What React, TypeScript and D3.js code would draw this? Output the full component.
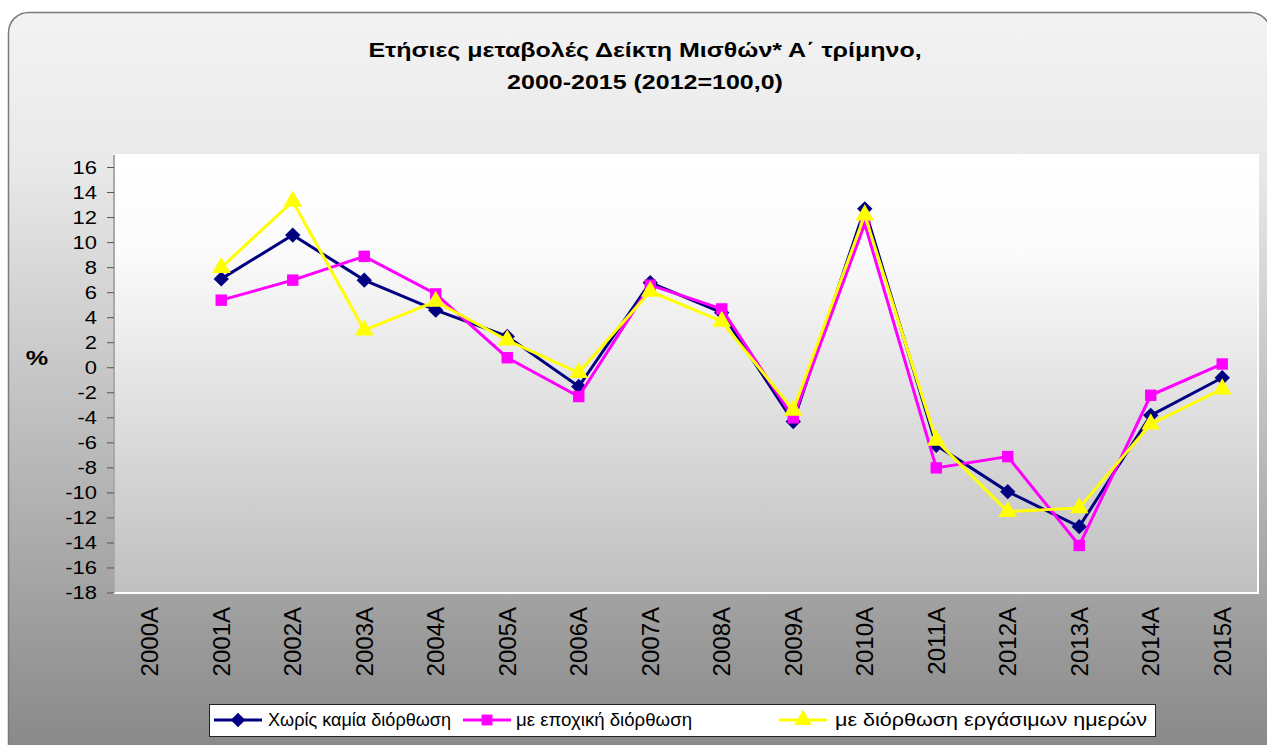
import React from "react";
import * as d3 from "d3";

const categories = [
  "2000A", "2001A", "2002A", "2003A", "2004A", "2005A", "2006A", "2007A",
  "2008A", "2009A", "2010A", "2011A", "2012A", "2013A", "2014A", "2015A",
];

const noAdjustment: (number | null)[] = [
  null, 7.1, 10.6, 7.0, 4.6, 2.5, -1.5, 6.8, 4.4, -4.3, 12.7, -6.2, -9.9, -12.7, -3.8, -0.8,
];
const seasonalAdjusted: (number | null)[] = [
  null, 5.4, 7.0, 8.9, 5.9, 0.8, -2.3, 6.6, 4.7, -4.0, 11.5, -8.0, -7.1, -14.2, -2.2, 0.3,
];
const workdayAdjusted: (number | null)[] = [
  null, 8.0, 13.3, 3.0, 5.3, 2.2, -0.4, 6.1, 3.7, -3.4, 12.2, -5.8, -11.5, -11.2, -4.5, -1.7,
];

const yTicks = d3.range(-18, 17, 2);

const seriesNames = [
  "Χωρίς καμία διόρθωση",
  "με εποχική διόρθωση",
  "με διόρθωση εργάσιμων ημερών",
];
const seriesColors = ["#000080", "#FF00FF", "#FFFF00"];
const seriesShapes = [d3.symbolDiamond2, d3.symbolSquare, d3.symbolTriangle];
const seriesSizes = [150, 130, 150];

const W = 1267;
const H = 745;
const FONT = "'Liberation Sans', Arial, sans-serif";

const plot = { left: 114, right: 1258, top: 155, bottom: 593 };

export default function App() {
  const x = d3
    .scaleBand<string>()
    .domain(categories)
    .range([plot.left, plot.right]);
  const y = d3.scaleLinear().domain([-18, 17]).range([plot.bottom, plot.top]);

  const all = [noAdjustment, seasonalAdjusted, workdayAdjusted];
  const cx = (i: number) => (x(categories[i]) as number) + x.bandwidth() / 2;

  const line = d3
    .line<number | null>()
    .defined((d) => d !== null)
    .x((_, i) => cx(i))
    .y((d) => y(d as number));

  const symbolPath = (i: number, size?: number) =>
    d3.symbol().type(seriesShapes[i]).size(size ?? seriesSizes[i])() as string;

  // legend layout: line start, text start, text width
  const legendItems = [
    { lineX: 214, textX: 268, textW: 183 },
    { lineX: 463, textX: 516, textW: 176 },
    { lineX: 779, textX: 835, textW: 312 },
  ];

  return (
    <div style={{ position: "absolute", left: 0, top: 0 }}>
      <svg width={W} height={H} style={{ display: "block", fontFamily: FONT }}>
        <defs>
          <linearGradient id="bg" x1="0" y1="0" x2="0" y2="1">
            <stop offset="0" stopColor="#f3f3f3" />
            <stop offset="0.2" stopColor="#e9e9e9" />
            <stop offset="1" stopColor="#858585" />
          </linearGradient>
          <linearGradient id="plotbg" x1="0" y1="0" x2="0" y2="1">
            <stop offset="0" stopColor="#ffffff" />
            <stop offset="0.22" stopColor="#fbfbfb" />
            <stop offset="1" stopColor="#bfbfbf" />
          </linearGradient>
        </defs>
        <rect width={W} height={H} fill="#ffffff" />
        <rect
          x={8.5}
          y={12.5}
          width={1262}
          height={760}
          rx={20}
          fill="url(#bg)"
          stroke="#7a7a7a"
          strokeWidth={1.5}
        />

        <text
          transform="translate(645,57) scale(1.19,1)"
          textAnchor="middle"
          fontSize={21}
          fontWeight="bold"
          fill="#000"
        >
          Ετήσιες μεταβολές Δείκτη Μισθών* Α΄ τρίμηνο,
        </text>
        <text
          transform="translate(645,89) scale(1.19,1)"
          textAnchor="middle"
          fontSize={21}
          fontWeight="bold"
          fill="#000"
        >
          2000-2015 (2012=100,0)
        </text>

        <rect
          x={plot.left}
          y={plot.top}
          width={plot.right - plot.left}
          height={plot.bottom - plot.top}
          fill="url(#plotbg)"
          stroke="#ffffff"
          strokeWidth={2}
        />
        <line x1={plot.left} x2={plot.left} y1={plot.top} y2={plot.bottom} stroke="#555" strokeWidth={1} />

        {yTicks.map((t) => (
          <g key={t}>
            <line x1={107} x2={plot.left} y1={y(t)} y2={y(t)} stroke="#555" strokeWidth={1} />
            <text
              transform={`translate(97,${y(t)}) scale(1.22,1)`}
              dy="0.36em"
              textAnchor="end"
              fontSize={18}
              fill="#000"
            >
              {t}
            </text>
          </g>
        ))}

        <text
          transform="translate(37,358) scale(1.2,1)"
          dy="0.35em"
          textAnchor="middle"
          fontSize={21}
          fontWeight="bold"
          fill="#000"
        >
          %
        </text>

        {categories.map((c, i) => (
          <text
            key={c}
            transform={`translate(${cx(i)},${607}) rotate(-90)`}
            textAnchor="end"
            dy="0.36em"
            fontSize={24}
            fill="#000"
          >
            {c}
          </text>
        ))}

        {all.map((s, i) => (
          <g key={i}>
            <path d={line(s) as string} fill="none" stroke={seriesColors[i]} strokeWidth={3} />
            {s.map((d, j) =>
              d === null ? null : (
                <path
                  key={j}
                  d={symbolPath(i)}
                  transform={`translate(${cx(j)},${y(d)})`}
                  fill={seriesColors[i]}
                />
              )
            )}
          </g>
        ))}

        <rect x={209.5} y={704.5} width={946} height={32} fill="#ffffff" stroke="#222" strokeWidth={1} />
        {legendItems.map((it, i) => (
          <g key={i}>
            <line
              x1={it.lineX}
              x2={it.lineX + 48}
              y1={720}
              y2={720}
              stroke={seriesColors[i]}
              strokeWidth={3}
            />
            <path
              d={symbolPath(i, seriesSizes[i] * 0.9)}
              transform={`translate(${it.lineX + 24},720)`}
              fill={seriesColors[i]}
            />
            <text
              x={it.textX}
              y={720}
              dy="0.35em"
              fontSize={18}
              textLength={it.textW}
              lengthAdjust="spacingAndGlyphs"
              fill="#000"
            >
              {seriesNames[i]}
            </text>
          </g>
        ))}
      </svg>
    </div>
  );
}
